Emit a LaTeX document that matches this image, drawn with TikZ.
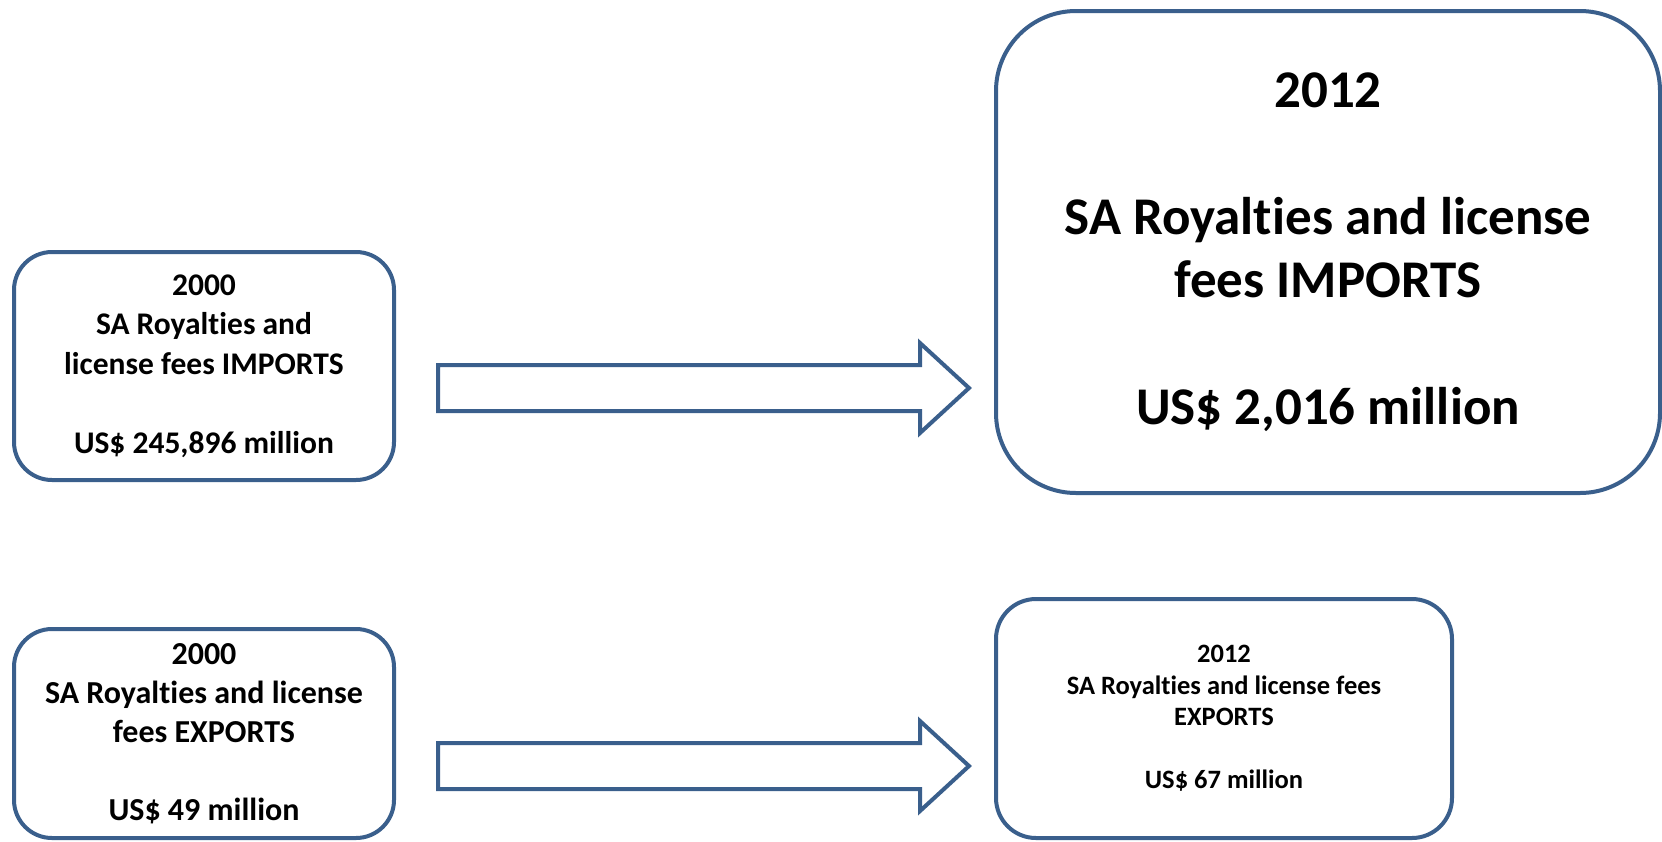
\documentclass[tikz,border=0pt]{standalone}
\usepackage{fontspec}
\setmainfont{Carlito}[Ligatures=NoCommon]
\usetikzlibrary{calc}
\definecolor{boxblue}{HTML}{3A5F8C}
\tikzset{
  roundbox/.style={draw=boxblue, line width=4pt, rounded corners=#1, fill=white, align=center, inner sep=0pt},
  blockarrow/.style={draw=boxblue, line width=4pt, fill=white, line join=miter}
}
\begin{document}
\begin{tikzpicture}[x=1pt,y=-1pt]
    \useasboundingbox (0,0) rectangle (1662,841);
    % imports
    \node[roundbox=38pt, minimum width=380pt, minimum height=228pt, font=\bfseries\fontsize{31.5}{39.5}\selectfont] (imp2000) at (204,366)
        {2000\\SA Royalties and\\license fees IMPORTS\\~\\US\$ 245,896 million};
    \node[roundbox=80pt, minimum width=664pt, minimum height=482pt, font=\bfseries\fontsize{53}{63.5}\selectfont] (imp2012) at (1328,252)
        {2012\\~\\SA Royalties and license\\fees IMPORTS\\~\\US\$ 2,016 million};
    % exports
    \node[roundbox=38pt, minimum width=380pt, minimum height=209pt, font=\bfseries\fontsize{32}{39}\selectfont] (exp2000) at (204,733.5)
        {2000\\SA Royalties and license\\fees EXPORTS\\~\\US\$ 49 million};
    \node[roundbox=40pt, minimum width=456pt, minimum height=239pt, font=\bfseries\fontsize{26.5}{31.5}\selectfont] (exp2012) at (1224,718.5)
        {2012\\SA Royalties and license fees\\EXPORTS\\~\\US\$ 67 million};
    % arrows
    \coordinate (impfrom) at (438,388);
    \coordinate (impto) at (969,388);
    \coordinate (expfrom) at (438,766);
    \coordinate (expto) at (969,766);
    \draw[blockarrow] (impto) -- ++(-49,-45) -- ++(0,22) -- ($(impfrom)+(0,-23)$) -- ($(impfrom)+(0,23)$)
        -- ($(impto)+(-49,23)$) -- ++(0,22) -- cycle;
    \draw[blockarrow] (expto) -- ++(-49,-45) -- ++(0,22) -- ($(expfrom)+(0,-23)$) -- ($(expfrom)+(0,23)$)
        -- ($(expto)+(-49,23)$) -- ++(0,22) -- cycle;
\end{tikzpicture}
\end{document}
